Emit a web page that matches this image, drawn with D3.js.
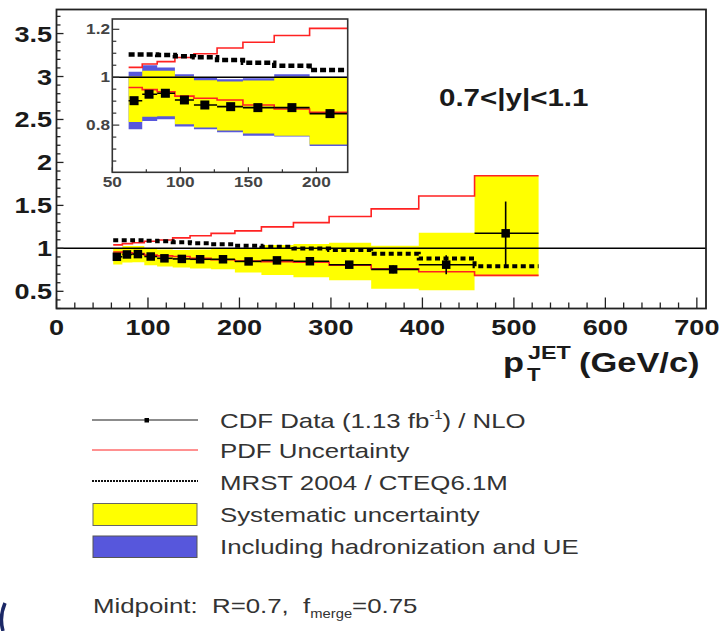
<!DOCTYPE html>
<html>
<head>
<meta charset="utf-8">
<script src="https://cdn.jsdelivr.net/npm/d3@7"></script>
<style>
  body { margin: 0; background: #fff; }
  svg { display: block; }
  text { font-family: "Liberation Sans", Arial, Helvetica, sans-serif; white-space: pre; }
</style>
</head>
<body>
<svg id="chart" width="719" height="631"></svg>
<script>
// pT bin edges (GeV/c), 0.7<|y|<1.1
const binEdges = [62, 72, 83, 96, 110, 127, 146, 169, 195, 224, 259, 298, 344, 396, 457, 527];
// data / NLO ratio, plotted at the mean pT of each bin
const dataPt    = [66, 77, 89, 103, 118, 137, 157, 182, 210, 241, 277, 320, 368, 426, 491];
const dataRatio = [0.902, 0.929, 0.933, 0.905, 0.884, 0.877, 0.873, 0.873, 0.848, 0.86, 0.85, 0.81, 0.755, 0.81, 1.175];
const statErr   = [0.004, 0.005, 0.006, 0.007, 0.008, 0.009, 0.011, 0.013, 0.016, 0.02, 0.025, 0.03, 0.045, 0.11, 0.37];
// systematic uncertainty band
const sysHigh = [1.003, 1.027, 1.027, 1.003, 0.987, 0.982, 0.986, 1.002, 1.0, 1.04, 1.05, 1.066, 1.03, 1.183, 1.845];
const sysLow  = [0.813, 0.835, 0.837, 0.804, 0.790, 0.778, 0.765, 0.756, 0.719, 0.69, 0.665, 0.628, 0.529, 0.513, 0.676];
// systematic uncertainty including hadronization and UE (low-pT bins)
const hadHigh = [1.023, 1.050, 1.041, 1.012, 0.998, 0.991, 0.996, 1.012, 1.002];
const hadLow  = [0.783, 0.817, 0.824, 0.794, 0.783, 0.770, 0.756, 0.752, 0.713];
// PDF uncertainty
const pdfHigh = [1.041, 1.055, 1.065, 1.082, 1.098, 1.122, 1.146, 1.174, 1.204, 1.25, 1.30, 1.37, 1.46, 1.61, 1.845];
const pdfLow  = [0.957, 0.948, 0.939, 0.921, 0.912, 0.905, 0.884, 0.867, 0.853, 0.845, 0.838, 0.805, 0.763, 0.728, 0.685];
// MRST 2004 / CTEQ6.1M
const mrstRatio = [1.095, 1.095, 1.093, 1.088, 1.083, 1.072, 1.060, 1.048, 1.030, 1.02, 0.997, 0.98, 0.938, 0.883, 0.793];

const mainXTicks = [0, 100, 200, 300, 400, 500, 600, 700];
const mainYTicks = [0.5, 1, 1.5, 2, 2.5, 3, 3.5];
const insetXTicks = [50, 100, 150, 200];
const insetYTicks = [0.8, 1, 1.2];
const rapidityLabel = "0.7<|y|<1.1";

const legendLabels = ["CDF Data (1.13 fb", "PDF Uncertainty", "MRST 2004 / CTEQ6.1M", "Systematic uncertainty", "Including hadronization and UE"];

const YELLOW = "#ffff00", BLUE = "#5757dc", RED = "#ff2222", INK = "#1a1a1a";
const SX = 1.23; // horizontal stretch of the lettering

const svg = d3.select("#chart");

const bins = binEdges.slice(0, -1).map((x0, i) => ({
  x0, x1: binEdges[i + 1], pt: dataPt[i], r: dataRatio[i], e: statErr[i],
  sh: sysHigh[i], sl: sysLow[i], ph: pdfHigh[i], pl: pdfLow[i], m: mrstRatio[i],
  hh: hadHigh[i], hl: hadLow[i]
}));

function txt(g, x, y, str, size, opts = {}) {
  const t = g.append("text")
    .attr("transform", `translate(${x},${y}) scale(${SX},1)`)
    .attr("font-size", size)
    .attr("font-weight", opts.bold ? "bold" : "normal")
    .attr("fill", opts.fill || INK)
    .attr("text-anchor", opts.anchor || "start")
    .text(str);
  return t;
}

function stepPoints(list, acc) {
  const pts = list.map(b => [b.x0, acc(b)]);
  const last = list[list.length - 1];
  pts.push([last.x1, acc(last)]);
  return pts;
}

function drawPanel(g, list, x, y, opt) {
  const stepLine = d3.line().curve(d3.curveStepAfter).x(d => x(d[0])).y(d => y(d[1]));
  const band = d3.area().curve(d3.curveStepAfter)
    .x(d => x(d[0])).y0(d => y(d[2])).y1(d => y(d[1]));
  const bandPts = (hi, lo) => {
    const pts = list.map(b => [b.x0, hi(b), lo(b)]);
    const l = list[list.length - 1];
    pts.push([l.x1, hi(l), lo(l)]);
    return pts;
  };

  if (opt.hadronization) {
    g.append("path").attr("d", band(bandPts(b => b.hh, b => b.hl))).attr("fill", BLUE);
  }
  g.append("path").attr("d", band(bandPts(b => b.sh, b => b.sl))).attr("fill", YELLOW);

  // PDF uncertainty
  [b => b.ph, b => b.pl].forEach(acc => {
    g.append("path").attr("d", stepLine(stepPoints(list, acc)))
      .attr("fill", "none").attr("stroke", RED).attr("stroke-width", 1.6);
  });

  // MRST / CTEQ ratio
  g.append("path").attr("d", stepLine(stepPoints(list, b => b.m)))
    .attr("fill", "none").attr("stroke", "#000")
    .attr("stroke-width", opt.dotW).attr("stroke-dasharray", opt.dotDash);

  // reference line at 1
  const [xa, xb] = x.range();
  g.append("line").attr("x1", xa).attr("x2", xb).attr("y1", y(1)).attr("y2", y(1))
    .attr("stroke", "#000").attr("stroke-width", 1.5);

  // data
  const pts = g.append("g");
  list.forEach(b => {
    pts.append("line").attr("x1", x(b.x0)).attr("x2", x(b.x1)).attr("y1", y(b.r)).attr("y2", y(b.r))
      .attr("stroke", "#000").attr("stroke-width", 1.6);
    pts.append("line").attr("x1", x(b.pt)).attr("x2", x(b.pt)).attr("y1", y(b.r - b.e)).attr("y2", y(b.r + b.e))
      .attr("stroke", "#000").attr("stroke-width", 1.6);
    pts.append("rect").attr("x", x(b.pt) - opt.ms / 2).attr("y", y(b.r) - opt.ms / 2)
      .attr("width", opt.ms).attr("height", opt.ms).attr("fill", "#000");
  });
}

// ---------- main panel ----------
const x = d3.scaleLinear().domain([0, 710]).range([56.5, 706]);
const y = d3.scaleLinear().domain([0.3, 3.78]).range([308.5, 9.5]);

const main = svg.append("g");
drawPanel(main, bins, x, y, { hadronization: false, ms: 8.5, dotW: 4, dotDash: "5,3.5" });

// ticks (inside the frame)
const axG = svg.append("g").attr("stroke", "#222").attr("stroke-width", 1.3);
d3.range(0, 711, 20).forEach(v => {
  const major = v % 100 === 0;
  axG.append("line").attr("x1", x(v)).attr("x2", x(v))
    .attr("y1", y.range()[0]).attr("y2", y.range()[0] - (major ? 11 : 6));
});
d3.range(3, 38).map(v => v / 10).forEach(v => {
  const major = Math.abs(v * 2 - Math.round(v * 2)) < 1e-6;
  axG.append("line").attr("x1", x.range()[0]).attr("x2", x.range()[0] + (major ? 7 : 4))
    .attr("y1", y(v)).attr("y2", y(v));
});
svg.append("rect").attr("x", 56.5).attr("y", 9.5).attr("width", 706 - 56.5).attr("height", 308.5 - 9.5)
  .attr("fill", "none").attr("stroke", "#222").attr("stroke-width", 1.8);

mainXTicks.forEach(v => txt(svg, x(v), 335, String(v), 22, { bold: true, anchor: "middle" }));
mainYTicks.forEach(v => txt(svg, 52, y(v) + 8, String(v), 22, { bold: true, anchor: "end" }));

txt(svg, 439, 106, rapidityLabel, 24, { bold: true });

// axis title
txt(svg, 503, 372, "p", 28, { bold: true });
txt(svg, 527, 381, "T", 18, { bold: true });
txt(svg, 528, 359, "JET", 19, { bold: true });
txt(svg, 579, 372, "(GeV/c)", 28, { bold: true });

// ---------- inset ----------
const ix = d3.scaleLinear().domain([50, 223]).range([112.3, 347.7]);
const iy = d3.scaleLinear().domain([0.603, 1.243]).range([172.3, 19]);

svg.append("rect").attr("x", 112.3).attr("y", 19).attr("width", 347.7 - 112.3).attr("height", 172.3 - 19)
  .attr("fill", "#fff");
svg.append("clipPath").attr("id", "insetClip").append("rect")
  .attr("x", 112.3).attr("y", 19).attr("width", 347.7 - 112.3).attr("height", 172.3 - 19);
const inset = svg.append("g").attr("clip-path", "url(#insetClip)");
drawPanel(inset, bins.slice(0, 9), ix, iy, { hadronization: true, ms: 9, dotW: 4.5, dotDash: "6,3" });

const iax = svg.append("g").attr("stroke", "#333").attr("stroke-width", 1.2);
d3.range(50, 224, 25).forEach(v => {
  const major = v % 50 === 0;
  iax.append("line").attr("x1", ix(v)).attr("x2", ix(v))
    .attr("y1", 172.3).attr("y2", 172.3 - (major ? 5 : 3));
});
d3.range(13, 25).map(v => v * 0.05).forEach(v => {
  const major = Math.abs(v * 5 - Math.round(v * 5)) < 1e-6;
  iax.append("line").attr("x1", 112.3).attr("x2", 112.3 + (major ? 7 : 4))
    .attr("y1", iy(v)).attr("y2", iy(v));
});
svg.append("rect").attr("x", 112.3).attr("y", 19).attr("width", 347.7 - 112.3).attr("height", 172.3 - 19)
  .attr("fill", "none").attr("stroke", "#333").attr("stroke-width", 1.6);

insetXTicks.forEach(v => txt(svg, ix(v), 186.5, String(v), 14, { bold: true, anchor: "middle", fill: "#444" }));
insetYTicks.forEach(v => txt(svg, 110, iy(v) + 5, String(v), 14, { bold: true, anchor: "end", fill: "#444" }));

// ---------- legend ----------
const leg = svg.append("g");
const lx0 = 92, lx1 = 198, tx = 220, LG = "#333";

leg.append("line").attr("x1", lx0).attr("x2", lx1).attr("y1", 420).attr("y2", 420)
  .attr("stroke", "#666").attr("stroke-width", 1.5);
leg.append("rect").attr("x", 144.5).attr("y", 418).attr("width", 4.5).attr("height", 4.5).attr("fill", "#000");
const t1 = txt(leg, tx, 428, legendLabels[0], 21, { fill: LG });
t1.append("tspan").attr("font-size", 12).attr("dy", -9).text("-1");
t1.append("tspan").attr("dy", 9).text(") / NLO");

leg.append("line").attr("x1", lx0).attr("x2", lx1).attr("y1", 450).attr("y2", 450)
  .attr("stroke", RED).attr("stroke-width", 1);
txt(leg, tx, 458, legendLabels[1], 21, { fill: LG });

leg.append("line").attr("x1", lx0).attr("x2", lx1).attr("y1", 481).attr("y2", 481)
  .attr("stroke", "#111").attr("stroke-width", 2.2).attr("stroke-dasharray", "2,1");
txt(leg, tx, 490, legendLabels[2], 21, { fill: LG });

leg.append("rect").attr("x", 93).attr("y", 503.5).attr("width", 104).attr("height", 22)
  .attr("fill", YELLOW).attr("stroke", "#666").attr("stroke-width", 1);
txt(leg, tx, 521.5, legendLabels[3], 21, { fill: LG });

leg.append("rect").attr("x", 93).attr("y", 536).attr("width", 104).attr("height", 21.5)
  .attr("fill", BLUE).attr("stroke", "#555").attr("stroke-width", 1);
txt(leg, tx, 553.5, legendLabels[4], 21, { fill: LG });

const mp = txt(leg, 93, 613, "Midpoint:  R=0.7,  f", 21, { fill: LG });
mp.append("tspan").attr("font-size", 12).attr("dy", 5).text("merge");
mp.append("tspan").attr("dy", -5).text("=0.75");

// edge mark at bottom-left
svg.append("path").attr("d", "M5,603 Q-1,617 3,631")
  .attr("fill", "none").attr("stroke", "#1b2866").attr("stroke-width", 3.5);
</script>
</body>
</html>
